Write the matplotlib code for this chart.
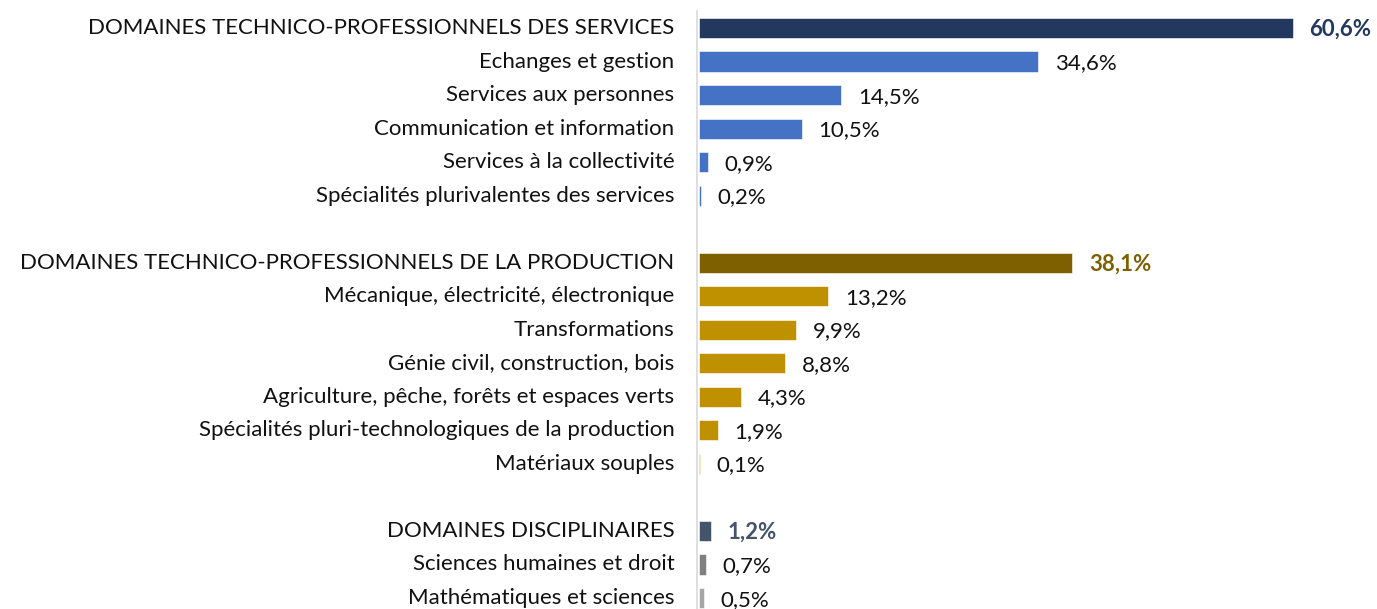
import matplotlib.pyplot as plt
import numpy as np

plt.rcParams['font.family'] = ['Lato', 'DejaVu Sans']

NAVY = '#22385f'
BLUE = '#4472c4'
BROWN = '#7f6000'
GOLD = '#bf9000'
SLATE = '#44546a'
GRAY = '#808080'
LGRAY = '#a6a6a6'

labels = [
    'DOMAINES TECHNICO-PROFESSIONNELS DES SERVICES',
    'Echanges et gestion',
    'Services aux personnes',
    'Communication et information',
    'Services à la collectivité',
    'Spécialités plurivalentes des services',
    '',
    'DOMAINES TECHNICO-PROFESSIONNELS DE LA PRODUCTION',
    'Mécanique, électricité, électronique',
    'Transformations',
    'Génie civil, construction, bois',
    'Agriculture, pêche, forêts et espaces verts',
    'Spécialités pluri-technologiques de la production',
    'Matériaux souples',
    '',
    'DOMAINES DISCIPLINAIRES',
    'Sciences humaines et droit',
    'Mathématiques et sciences',
]
values = [60.6, 34.6, 14.5, 10.5, 0.9, 0.2, None,
          38.1, 13.2, 9.9, 8.8, 4.3, 1.9, 0.1, None,
          1.2, 0.7, 0.5]
colors = [NAVY, BLUE, BLUE, BLUE, BLUE, BLUE, None,
          BROWN, GOLD, GOLD, GOLD, GOLD, GOLD, GOLD, None,
          SLATE, GRAY, LGRAY]
is_total = [l.startswith('DOMAINES') for l in labels]

W, H = 1377, 609
fig = plt.figure(figsize=(W / 100, H / 100), dpi=100)
ax = fig.add_axes([699 / W, 0, (W - 699) / W, 1])

row0, step = 28, 33.53
ax.set_ylim((H - row0) / step, -row0 / step)
ax.set_xlim(0, (W - 699) / 9.8)

ypos = np.arange(len(labels))
for y, v, c, tot in zip(ypos, values, colors, is_total):
    if v is None:
        continue
    ax.barh(y, v, height=0.6, color=c, edgecolor='white', linewidth=0.4)
    ax.text(v + 1.7, y + 0.05, f'{v:.1f}%'.replace('.', ','), va='center',
            ha='left', fontsize=16, color=c if tot else '#111111',
            fontweight='bold' if tot else 'normal')
    ax.text(-2.5, y, labels[y], va='center', ha='right', fontsize=16,
            color='#111111', clip_on=False)

for s in ['top', 'right', 'bottom']:
    ax.spines[s].set_visible(False)
ax.spines['left'].set_color('#d9d9d9')
ax.spines['left'].set_linewidth(1.2)
ax.spines['left'].set_bounds(-0.5, (H - row0) / step)
ax.spines['left'].set_position(('data', -0.2))
ax.set_xticks([])
ax.set_yticks([])

fig.savefig('out.png', dpi=100)
